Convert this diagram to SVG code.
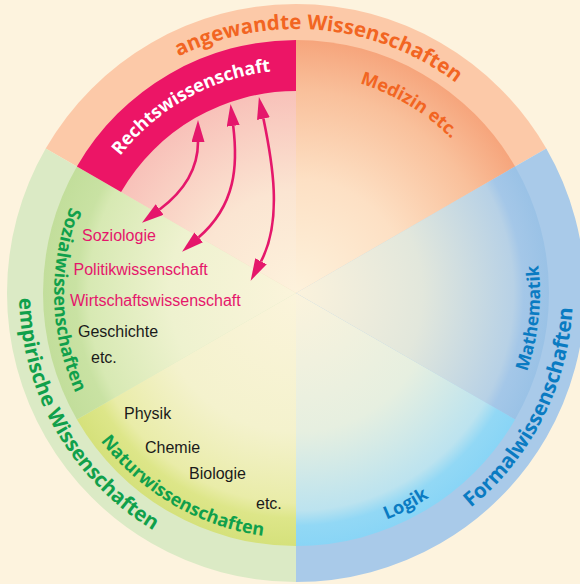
<svg xmlns="http://www.w3.org/2000/svg" width="580" height="584" viewBox="0 0 580 584">
  <style>
    .arc { font-family: "Open Sans", "Noto Sans", "Liberation Sans", sans-serif; font-weight: 700; }
    .item { font-family: "Liberation Sans", Arial, sans-serif; font-size: 16px; }
    .pink { fill: #e5176b; }
    .dark { fill: #1a1a1a; }
    .orange { fill: #f26522; }
    .green { fill: #10a04b; }
    .blue { fill: #0a7bc2; }
    .link { fill: none; stroke: #e5176b; stroke-width: 2.6; marker-start: url(#head); marker-end: url(#head); }
  </style>
  <defs>
    <radialGradient id="gMed" gradientUnits="userSpaceOnUse" cx="296" cy="293" r="253">
      <stop offset="0" stop-color="#fdf2dc"/>
      <stop offset="0.45" stop-color="#fde0c4"/>
      <stop offset="0.8" stop-color="#f9c09b"/>
      <stop offset="1" stop-color="#f6a57c"/>
    </radialGradient>
    <radialGradient id="gRecht" gradientUnits="userSpaceOnUse" cx="296" cy="293" r="253">
      <stop offset="0" stop-color="#fdf2dc"/>
      <stop offset="0.4" stop-color="#fbe5d2"/>
      <stop offset="0.8" stop-color="#f8c1b9"/>
    </radialGradient>
    <radialGradient id="gMath" gradientUnits="userSpaceOnUse" cx="296" cy="293" r="253">
      <stop offset="0" stop-color="#fbf2dc"/>
      <stop offset="0.5" stop-color="#e2e7dc"/>
      <stop offset="0.86" stop-color="#b7d1e6"/>
      <stop offset="0.9" stop-color="#a4c7e8"/>
      <stop offset="1" stop-color="#9ac2e6"/>
    </radialGradient>
    <radialGradient id="gLogik" gradientUnits="userSpaceOnUse" cx="296" cy="293" r="253">
      <stop offset="0" stop-color="#fbf3dc"/>
      <stop offset="0.55" stop-color="#e6efe0"/>
      <stop offset="0.86" stop-color="#bce3ef"/>
      <stop offset="0.92" stop-color="#92d8f5"/>
      <stop offset="1" stop-color="#89d5f6"/>
    </radialGradient>
    <radialGradient id="gNatur" gradientUnits="userSpaceOnUse" cx="296" cy="293" r="253">
      <stop offset="0" stop-color="#fbf4db"/>
      <stop offset="0.55" stop-color="#f4f2cd"/>
      <stop offset="0.83" stop-color="#e9eca8"/>
      <stop offset="0.89" stop-color="#dde689"/>
      <stop offset="1" stop-color="#d5e17b"/>
    </radialGradient>
    <radialGradient id="gSozial" gradientUnits="userSpaceOnUse" cx="296" cy="293" r="253">
      <stop offset="0" stop-color="#fbf4db"/>
      <stop offset="0.5" stop-color="#eef2cf"/>
      <stop offset="0.82" stop-color="#d7e9b3"/>
      <stop offset="0.87" stop-color="#c9e2a3"/>
      <stop offset="1" stop-color="#c2de9b"/>
    </radialGradient>

    <!-- baselines for the curved labels -->
    <path id="pTopOuter" d="M32,293 A264,264 0 0 1 560,293"/>
    <path id="pRecht" d="M73,293 A223,223 0 0 1 519,293"/>
    <path id="pMed" d="M77,293 A219,219 0 0 1 515,293"/>
    <path id="pRightInner" d="M296,537 A244,244 0 0 0 296,49"/>
    <path id="pRightOuter" d="M296,570 A277,277 0 0 0 296,16"/>
    <path id="pLeftOuter" d="M296,16 A277,277 0 0 0 296,570"/>
    <path id="pSozial" d="M296,51 A242,242 0 0 0 296,535"/>
    <path id="pNatur" d="M296,48 A245,245 0 0 0 296,538"/>

    <marker id="head" viewBox="0 0 22 13" refX="0" refY="6.5" markerWidth="22" markerHeight="13" markerUnits="userSpaceOnUse" orient="auto-start-reverse">
      <path d="M0,0 L22,6.5 L0,13 Z" fill="#e5176b"/>
    </marker>
  </defs>

  <rect width="580" height="584" fill="#fdf3de"/>

  <!-- outer ring: three main groups -->
  <g id="ring-angewandte">
    <path d="M296,293 L45.7,148.5 A289,289 0 0 1 546.3,148.5 Z" fill="#fcc9a8"/>
    <text class="arc orange" font-size="20.5"><textPath href="#pTopOuter" startOffset="439.6" text-anchor="middle">angewandte Wissenschaften</textPath></text>
  </g>
  <g id="ring-empirisch">
    <path d="M296,293 L296,582 A289,289 0 0 1 45.7,148.5 Z" fill="#dbeac5"/>
    <text class="arc green" font-size="20.5"><textPath href="#pLeftOuter" startOffset="580" text-anchor="middle">empirische Wissenschaften</textPath></text>
  </g>
  <g id="ring-formal">
    <path d="M296,293 L546.3,148.5 A289,289 0 0 1 296,582 Z" fill="#a9cae9"/>
    <text class="arc blue" font-size="20.5"><textPath href="#pRightOuter" startOffset="304.6" text-anchor="middle">Formalwissenschaften</textPath></text>
  </g>

  <!-- inner sectors -->
  <g id="sector-medizin">
    <path d="M296,293 L296,40 A253,253 0 0 1 515.1,166.5 Z" fill="url(#gMed)"/>
    <text class="arc orange" font-size="18"><textPath href="#pMed" startOffset="462.5" text-anchor="middle">Medizin etc.</textPath></text>
  </g>
  <g id="sector-mathematik">
    <path d="M296,293 L515.1,166.5 A253,253 0 0 1 515.1,419.5 Z" fill="url(#gMath)"/>
    <text class="arc blue" font-size="17.5"><textPath href="#pRightInner" startOffset="356.9" text-anchor="middle">Mathematik</textPath></text>
  </g>
  <g id="sector-logik">
    <path d="M296,293 L515.1,419.5 A253,253 0 0 1 296,546 Z" fill="url(#gLogik)"/>
    <text class="arc blue" font-size="18"><textPath href="#pRightInner" startOffset="116.7" text-anchor="middle">Logik</textPath></text>
  </g>
  <g id="sector-natur">
    <path d="M296,293 L296,546 A253,253 0 0 1 76.9,419.5 Z" fill="url(#gNatur)"/>
    <text class="arc green" font-size="18"><textPath href="#pNatur" startOffset="639.9" text-anchor="middle">Naturwissenschaften</textPath></text>
    <text class="item dark" x="124" y="419">Physik</text>
    <text class="item dark" x="145" y="452.5">Chemie</text>
    <text class="item dark" x="189" y="479">Biologie</text>
    <text class="item dark" x="256" y="509">etc.</text>
  </g>
  <g id="sector-sozial">
    <path d="M296,293 L76.9,419.5 A253,253 0 0 1 76.9,166.5 Z" fill="url(#gSozial)"/>
    <text class="arc green" font-size="18"><textPath href="#pSozial" startOffset="387.5" text-anchor="middle">Sozialwissenschaften</textPath></text>
    <text class="item pink" x="82" y="240.5">Soziologie</text>
    <text class="item pink" x="73.5" y="275">Politikwissenschaft</text>
    <text class="item pink" x="70" y="306">Wirtschaftswissenschaft</text>
    <text class="item dark" x="78" y="337">Geschichte</text>
    <text class="item dark" x="91" y="362.5">etc.</text>
  </g>
  <g id="sector-recht">
    <path d="M296,293 L76.9,166.5 A253,253 0 0 1 296,40 Z" fill="url(#gRecht)"/>
    <path d="M76.9,166.5 A253,253 0 0 1 296,40 L296,91 A202,202 0 0 0 121.1,192 Z" fill="#ec1566"/>
    <text class="arc" font-size="18" fill="#ffffff"><textPath href="#pRecht" startOffset="236.1" text-anchor="middle">Rechtswissenschaft</textPath></text>
  </g>

  <!-- links between Rechtswissenschaft and the social sciences -->
  <g id="connectors">
    <path class="link" d="M198,142 C198,170 183.6,191.5 159.6,209.5"/>
    <path class="link" d="M233.2,125.9 C238,165 236,205 198.7,237.3"/>
    <path class="link" d="M263.4,118.6 C272,160 283,220 261,261.3"/>
  </g>
</svg>
